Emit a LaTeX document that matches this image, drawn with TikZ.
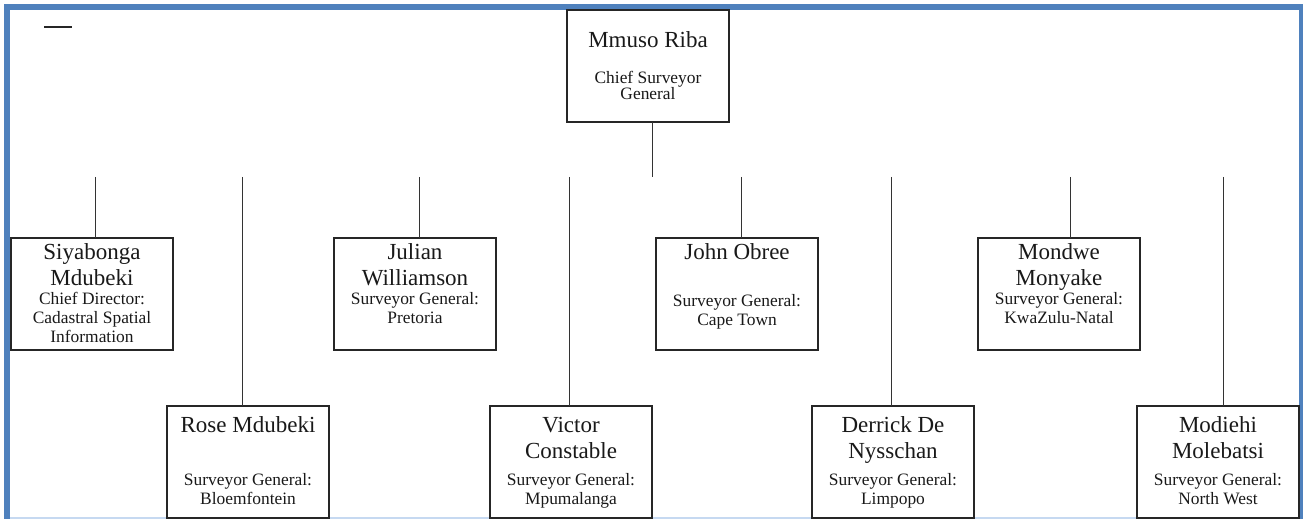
\documentclass[tikz,border=0pt]{standalone}
\usepackage{fontspec}
\setmainfont{Liberation Serif}
\usetikzlibrary{calc}
\definecolor{frameblue}{HTML}{4F81BD}
\definecolor{framelight}{HTML}{C6D9F1}
\begin{document}
\begin{tikzpicture}[x=1pt,y=1pt,
  orgbox/.style={draw=black!85, fill=white, line width=1.4pt, minimum width=162pt, minimum height=112pt, inner sep=0pt, outer sep=0pt},
  nm/.style={font=\fontsize{23}{26}\selectfont, inner sep=0pt, anchor=base, text=black!90},
  sb/.style={font=\fontsize{17.4}{19}\selectfont, inner sep=0pt, anchor=base, text=black!90},
  link/.style={draw=black!80, line width=1pt}]
\useasboundingbox (0,0) rectangle (1303,519);
% page frame
\fill[frameblue] (4,509) rectangle (1303,515);
\fill[frameblue] (4,0) rectangle (10,515);
\fill[frameblue] (1299,0) rectangle (1303,509);
\fill[framelight] (10,0) rectangle (1299,2);
\draw[line width=1.5pt, black!85] (44,492) -- (72,492);
% boxes
\node[orgbox] (mmuso) at (648,453) {};
\node[orgbox] (siy) at (92,225) {};
\node[orgbox] (jul) at (415,225) {};
\node[orgbox] (john) at (737,225) {};
\node[orgbox] (mon) at (1059,225) {};
\node[orgbox] (rose) at (248,57) {};
\node[orgbox] (vic) at (571,57) {};
\node[orgbox] (der) at (893,57) {};
\node[orgbox] (mod) at (1218,57) {};
% connectors
\coordinate (hub) at (652,342);
\coordinate (tsiy) at (95,342);
\coordinate (trose) at (242,342);
\coordinate (tjul) at (419,342);
\coordinate (tvic) at (569,342);
\coordinate (tjohn) at (741,342);
\coordinate (tder) at (891,342);
\coordinate (tmon) at (1070,342);
\coordinate (tmod) at (1223,342);
\draw[link] (hub |- mmuso.south) -- (hub);
\draw[link] (tsiy) -- (tsiy |- siy.north);
\draw[link] (trose) -- (trose |- rose.north);
\draw[link] (tjul) -- (tjul |- jul.north);
\draw[link] (tvic) -- (tvic |- vic.north);
\draw[link] (tjohn) -- (tjohn |- john.north);
\draw[link] (tder) -- (tder |- der.north);
\draw[link] (tmon) -- (tmon |- mon.north);
\draw[link] (tmod) -- (tmod |- mod.north);
% texts
\node[nm] (mmuso-a) at ($(mmuso.north)+(0,-38)$) {Mmuso Riba};
\node[sb] (mmuso-b) at ($(mmuso.north)+(0,-74)$) {Chief Surveyor};
\node[sb] (mmuso-c) at ($(mmuso.north)+(0,-90)$) {General};

\node[nm] (siy-a) at ($(siy.north)+(0,-22)$) {Siyabonga};
\node[nm] (siy-b) at ($(siy.north)+(0,-48)$) {Mdubeki};
\node[sb] (siy-c) at ($(siy.north)+(0,-67)$) {Chief Director:};
\node[sb] (siy-d) at ($(siy.north)+(0,-86)$) {Cadastral Spatial};
\node[sb] (siy-e) at ($(siy.north)+(0,-105)$) {Information};

\node[nm] (jul-a) at ($(jul.north)+(0,-22)$) {Julian};
\node[nm] (jul-b) at ($(jul.north)+(0,-48)$) {Williamson};
\node[sb] (jul-c) at ($(jul.north)+(0,-67)$) {Surveyor General:};
\node[sb] (jul-d) at ($(jul.north)+(0,-86)$) {Pretoria};

\node[nm] (john-a) at ($(john.north)+(0,-22)$) {John Obree};
\node[sb] (john-c) at ($(john.north)+(0,-69)$) {Surveyor General:};
\node[sb] (john-d) at ($(john.north)+(0,-88)$) {Cape Town};

\node[nm] (mon-a) at ($(mon.north)+(0,-22)$) {Mondwe};
\node[nm] (mon-b) at ($(mon.north)+(0,-48)$) {Monyake};
\node[sb] (mon-c) at ($(mon.north)+(0,-67)$) {Surveyor General:};
\node[sb] (mon-d) at ($(mon.north)+(0,-86)$) {KwaZulu-Natal};

\node[nm] (rose-a) at ($(rose.north)+(0,-27)$) {Rose Mdubeki};
\node[sb] (rose-c) at ($(rose.north)+(0,-80)$) {Surveyor General:};
\node[sb] (rose-d) at ($(rose.north)+(0,-99)$) {Bloemfontein};

\node[nm] (vic-a) at ($(vic.north)+(0,-27)$) {Victor};
\node[nm] (vic-b) at ($(vic.north)+(0,-53)$) {Constable};
\node[sb] (vic-c) at ($(vic.north)+(0,-80)$) {Surveyor General:};
\node[sb] (vic-d) at ($(vic.north)+(0,-99)$) {Mpumalanga};

\node[nm] (der-a) at ($(der.north)+(0,-27)$) {Derrick De};
\node[nm] (der-b) at ($(der.north)+(0,-53)$) {Nysschan};
\node[sb] (der-c) at ($(der.north)+(0,-80)$) {Surveyor General:};
\node[sb] (der-d) at ($(der.north)+(0,-99)$) {Limpopo};

\node[nm] (mod-a) at ($(mod.north)+(0,-27)$) {Modiehi};
\node[nm] (mod-b) at ($(mod.north)+(0,-53)$) {Molebatsi};
\node[sb] (mod-c) at ($(mod.north)+(0,-80)$) {Surveyor General:};
\node[sb] (mod-d) at ($(mod.north)+(0,-99)$) {North West};
\end{tikzpicture}
\end{document}
